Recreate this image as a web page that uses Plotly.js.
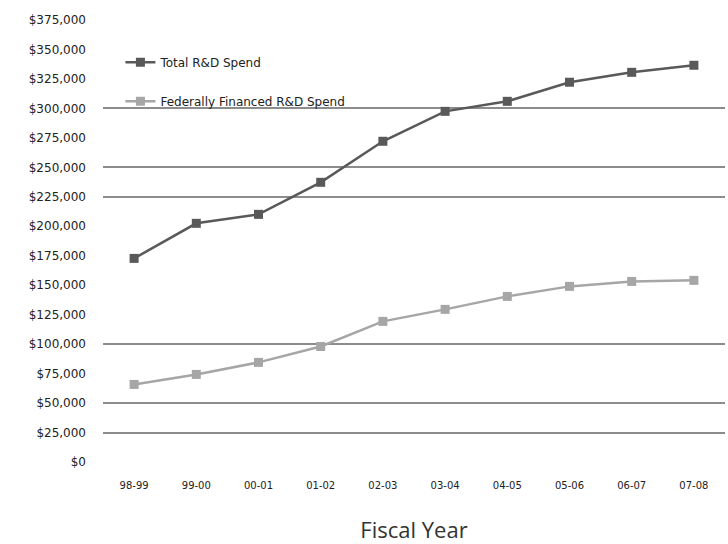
<!DOCTYPE html>
<html>
<head>
<meta charset="utf-8">
<script src="https://cdn.plot.ly/plotly-3.0.1.min.js"></script>
<style>html,body{margin:0;padding:0;background:#fff;}#chart{width:728px;height:544px;}</style>
</head>
<body>
<div id="chart"></div>
<script>
const fiscalYears = ["98-99", "99-00", "00-01", "01-02", "02-03", "03-04", "04-05", "05-06", "06-07", "07-08"];
const totalRD = [172750, 202500, 210100, 237300, 272100, 297500, 306000, 322200, 330600, 336600];
const federalRD = [65800, 74300, 84500, 98000, 119300, 129500, 140500, 149000, 153200, 154100];
const yTickVals = [0, 25000, 50000, 75000, 100000, 125000, 150000, 175000, 200000, 225000, 250000, 275000, 300000, 325000, 350000, 375000];
const yTickText = ["$0", "$25,000", "$50,000", "$75,000", "$100,000", "$125,000", "$150,000", "$175,000", "$200,000", "$225,000", "$250,000", "$275,000", "$300,000", "$325,000", "$350,000", "$375,000"];
const gridVals = [25000, 50000, 100000, 225000, 250000, 300000];
const seriesNames = ["Total R&D Spend", "Federally Financed R&D Spend"];

const traces = [
  {
    x: fiscalYears, y: totalRD, name: seriesNames[0], type: "scatter", mode: "lines+markers",
    line: {color: "#595959", width: 2.5}, marker: {symbol: "square", size: 9, color: "#595959"},
    legendgroup: "a"
  },
  {
    x: fiscalYears, y: federalRD, name: seriesNames[1], type: "scatter", mode: "lines+markers",
    line: {color: "#a6a6a6", width: 2.5}, marker: {symbol: "square", size: 9, color: "#a6a6a6"},
    legendgroup: "b"
  },
  {
    x: [fiscalYears[0]], y: [null], yaxis: "y2", showlegend: false, hoverinfo: "skip", type: "scatter", mode: "markers"
  }
];

const layout = {
  width: 728, height: 544,
  margin: {l: 103, r: 3, t: 20, b: 82},
  paper_bgcolor: "#ffffff", plot_bgcolor: "#ffffff",
  font: {family: "DejaVu Sans, sans-serif", color: "#222"},
  showlegend: true,
  legend: {x: 0.028, y: 0.937, xanchor: "left", yanchor: "top", bgcolor: "rgba(0,0,0,0)",
           font: {size: 12, color: "#222"}, tracegroupgap: 20},
  xaxis: {
    type: "category", range: [-0.5, 9.5], showgrid: false, zeroline: false, showline: false,
    ticks: "", tickfont: {size: 10, color: "#222"}, ticklabelstandoff: 16,
    title: {text: "Fiscal Year", font: {size: 22, color: "#333", family: "Open Sans, Liberation Sans, sans-serif"}, standoff: 32}
  },
  yaxis: {
    range: [0, 375000], tickvals: yTickVals, ticktext: yTickText, showgrid: false, zeroline: false,
    showline: false, ticks: "", tickfont: {size: 12, color: "#222"}, ticklabelstandoff: 16
  },
  yaxis2: {
    overlaying: "y", range: [0, 375000], tickvals: gridVals, showticklabels: false,
    showgrid: true, gridcolor: "#8c8c8c", gridwidth: 2, zeroline: false, showline: false, ticks: ""
  }
};

Plotly.newPlot("chart", traces, layout, {displayModeBar: false, staticPlot: true});
</script>
</body>
</html>
